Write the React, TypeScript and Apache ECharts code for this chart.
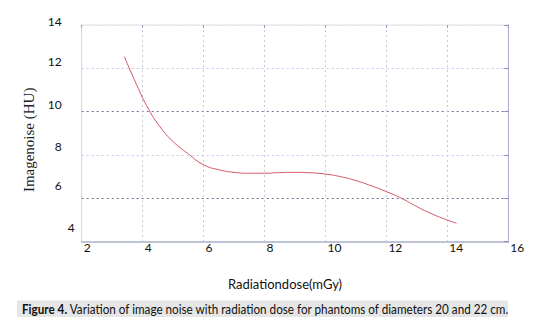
import React, { useEffect, useRef } from "react";
import * as echarts from "echarts";

const doseValues = [3.4, 3.8, 4.2, 4.6, 5.0, 5.5, 6.0, 6.5, 7.0, 7.5, 8.0, 8.5, 9.0, 9.5, 10.0, 10.5, 11.0, 11.5, 12.0, 12.5, 13.0, 13.5, 14.0, 14.3];
const noiseValues = [12.54, 11.25, 10.1, 9.25, 8.62, 8.05, 7.55, 7.32, 7.2, 7.16, 7.16, 7.19, 7.2, 7.18, 7.12, 7.0, 6.82, 6.58, 6.31, 6.0, 5.62, 5.28, 5.0, 4.85];
const xTicks = [2, 4, 6, 8, 10, 12, 14, 16];
const yTicks = [4, 6, 8, 10, 12, 14];
const xTitle = "Radiationdose(mGy)";
const yTitle = "Imagenoise (HU)";
const captionBold = "Figure 4.";
const captionRest = " Variation of image noise with radiation dose for phantoms of diameters 20 and 22 cm.";

// per-label offsets (shift up, shift left) in px, as in the picture
const yLabelShift: Record<number, [number, number]> = {
  14: [4, 13],
  12: [6.5, 13],
  10: [7.5, 13],
  8: [8.5, 13],
  6: [12.5, 13],
  4: [14, 0],
};

export default function App() {
  const ref = useRef<HTMLDivElement>(null);
  useEffect(() => {
    if (!ref.current) return;
    const chart = echarts.init(ref.current, undefined, { renderer: "svg" });
    const rich: Record<string, any> = {};
    yTicks.forEach((t) => {
      const [up, left] = yLabelShift[t];
      rich["r" + t] = {
        fontFamily: "Lato",
        fontSize: 12,
        color: "#111",
        padding: [0, left, up * 2, 0],
      };
    });
    const data = doseValues.map((d, i) => [d, noiseValues[i]]);
    chart.setOption({
      animation: false,
      backgroundColor: "#fff",
      grid: {
        left: 81.7,
        right: 48.7,
        top: 25,
        bottom: 86.3,
        show: true,
        borderColor: "#dfdfe8",
        borderWidth: 1,
      },
      xAxis: [
        {
          type: "value",
          min: xTicks[0],
          max: xTicks[xTicks.length - 1],
          interval: 2,
          position: "bottom",
          name: xTitle,
          nameLocation: "middle",
          nameGap: 36,
          nameTextStyle: { fontFamily: "Lato", fontSize: 13, color: "#111", padding: [0, 20, 0, 0] },
          axisLine: { show: true, lineStyle: { color: "#bfc3d8", width: 2 } },
          axisTick: { show: false },
          axisLabel: {
            fontFamily: "Lato",
            fontSize: 12,
            color: "#111",
            align: "left",
            margin: 0,
            padding: [0, 0, 0, 2],
            showMaxLabel: true,
            showMinLabel: true,
          },
          splitLine: { show: true, lineStyle: { color: "#c9c9dc", type: [2, 3], width: 1 } },
        },
        {
          type: "value",
          min: xTicks[0],
          max: xTicks[xTicks.length - 1],
          interval: 2,
          position: "top",
          axisLine: { show: false },
          axisTick: { show: true, inside: true, length: 3, lineStyle: { color: "#9a9ab8" } },
          axisLabel: { show: false },
          splitLine: { show: false },
        },
      ],
      yAxis: [
        {
          type: "value",
          min: yTicks[0],
          max: yTicks[yTicks.length - 1],
          interval: 2,
          name: yTitle,
          nameLocation: "middle",
          nameGap: 39,
          nameRotate: 90,
          nameTextStyle: { fontFamily: "Liberation Serif", fontSize: 15, color: "#222", padding: [0, 13, 0, 0] },
          axisLine: { show: true, lineStyle: { color: "#d8d8e2", width: 1 } },
          axisTick: { show: false },
          axisLabel: {
            margin: 7,
            formatter: (v: number) => `{r${v}|${v}}`,
            rich,
            showMaxLabel: true,
            showMinLabel: true,
          },
          splitLine: {
            show: true,
            lineStyle: {
              color: ["#c3c7da", "#6e6e8e", "#c6c6ee", "#6e6e8e", "#c6c6ee", "#dfdfe8"],
              type: [2, 3],
              width: 1,
            },
          },
        },
        {
          type: "value",
          min: yTicks[0],
          max: yTicks[yTicks.length - 1],
          interval: 2,
          position: "right",
          axisLine: { show: true, lineStyle: { color: "#aab0d8", width: 1 } },
          axisTick: { show: true, inside: true, length: 4, lineStyle: { color: "#8888b0" } },
          axisLabel: { show: false },
          splitLine: { show: false },
        },
      ],
      series: [
        {
          type: "line",
          data,
          smooth: 0.5,
          showSymbol: false,
          lineStyle: { color: "#d25565", width: 1 },
        },
      ],
      graphic: [
        {
          type: "rect",
          shape: { x: 17, y: 300.5, width: 491, height: 16.5 },
          style: { fill: "#e6e6e6" },
          silent: true,
        },
        {
          type: "text",
          x: 22,
          y: 309,
          scaleX: 0.9,
          style: {
            text: `{b|${captionBold}}{n|${captionRest}}`,
            verticalAlign: "middle",
            rich: {
              b: { fontFamily: "Lato", fontSize: 13, fontWeight: "bold", fill: "#111", color: "#111" },
              n: { fontFamily: "Lato", fontSize: 13, fill: "#111", color: "#111" },
            },
          },
          silent: true,
        },
      ],
    });
    return () => chart.dispose();
  }, []);
  return (
    <div
      ref={ref}
      style={{ position: "fixed", left: 0, top: 0, width: 557, height: 328 }}
    />
  );
}
